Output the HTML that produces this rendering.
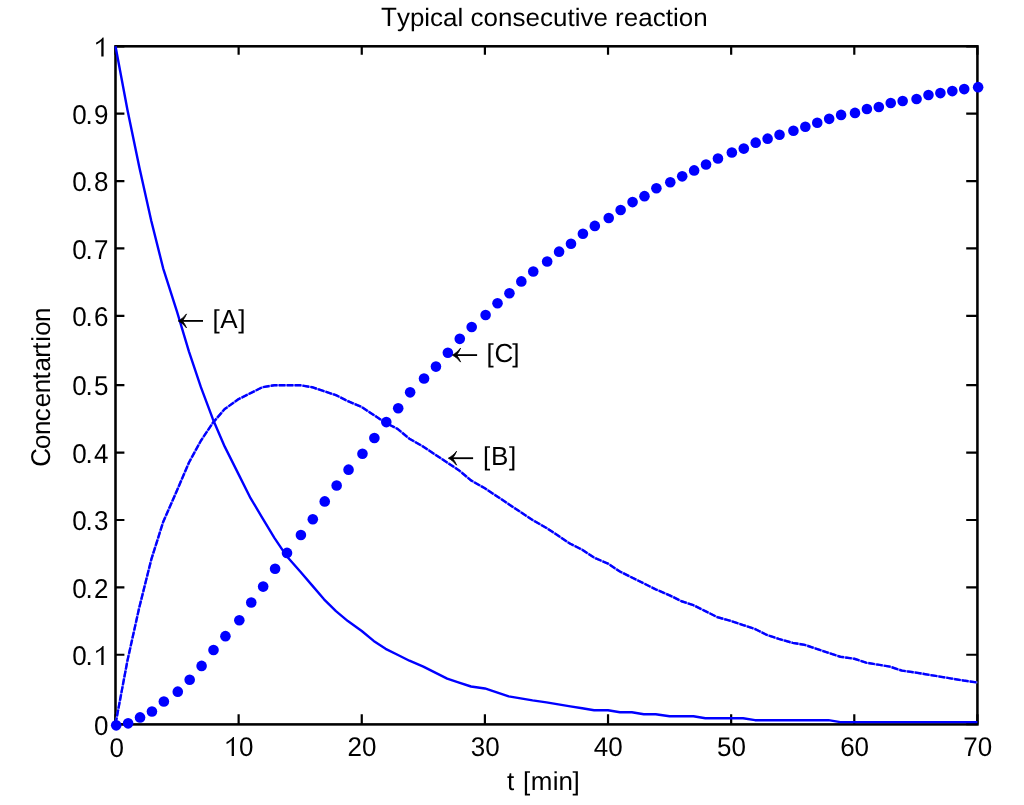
<!DOCTYPE html>
<html><head><meta charset="utf-8"><style>
html,body{margin:0;padding:0;background:#fff;width:1024px;height:805px;overflow:hidden}
svg{display:block;will-change:transform}
text{font-family:"Liberation Sans",sans-serif;font-size:26px;fill:#000;text-rendering:geometricPrecision}
</style></head><body>
<svg width="1024" height="805" viewBox="0 0 1024 805">
<rect width="1024" height="805" fill="#fff"/>
<g stroke="#000" fill="none">
<path d="M115.50,724.14h8.9M977.42,724.14h-11.2M115.50,654.77h8.9M977.42,654.77h-11.2M115.50,587.39h8.9M977.42,587.39h-11.2M115.50,520.00h8.9M977.42,520.00h-11.2M115.50,452.61h8.9M977.42,452.61h-11.2M115.50,385.22h8.9M977.42,385.22h-11.2M115.50,315.85h8.9M977.42,315.85h-11.2M115.50,248.46h8.9M977.42,248.46h-11.2M115.50,181.08h8.9M977.42,181.08h-11.2M115.50,113.69h8.9M977.42,113.69h-11.2M115.50,46.30h8.9M977.42,46.30h-11.2M115.50,724.40v-10.2M115.50,46.30v8.5M238.63,724.40v-10.2M238.63,46.30v8.5M361.76,724.40v-10.2M361.76,46.30v8.5M484.90,724.40v-10.2M484.90,46.30v8.5M608.03,724.40v-10.2M608.03,46.30v8.5M731.16,724.40v-10.2M731.16,46.30v8.5M854.29,724.40v-10.2M854.29,46.30v8.5M977.42,724.40v-10.2M977.42,46.30v8.5" stroke-width="2.2"/>
<rect x="115.50" y="46.30" width="861.92" height="678.10" stroke-width="2.55"/>
</g>
<g fill="none" stroke="#0000ff" stroke-width="2.4" stroke-linejoin="round">
<polyline points="115.50,46.30 127.42,109.72 139.33,167.20 151.25,220.72 163.16,268.28 177.07,311.89 188.98,351.53 200.90,387.20 212.81,418.92 224.73,446.66 238.63,474.41 250.55,498.20 262.46,518.02 274.38,537.84 286.30,555.67 300.20,571.53 312.11,585.40 324.03,599.28 335.95,611.17 347.86,621.08 361.76,630.99 373.68,640.90 385.60,648.83 397.51,654.77 409.43,660.72 423.33,666.67 435.25,672.61 447.16,678.56 459.08,682.52 470.99,686.49 484.90,688.47 496.81,692.43 508.73,696.40 520.64,698.38 532.56,700.36 546.46,702.34 558.38,704.32 570.29,706.31 582.21,708.29 594.13,710.27 608.03,710.27 619.94,712.25 631.86,712.25 643.78,714.23 655.69,714.23 669.59,716.22 681.51,716.22 693.43,716.22 705.34,718.20 717.26,718.20 731.16,718.20 743.08,718.20 754.99,720.18 766.91,720.18 778.82,720.18 792.73,720.18 804.64,720.18 816.56,720.18 828.47,720.18 840.39,722.16 854.29,722.16 866.21,722.16 878.12,722.16 890.04,722.16 901.96,722.16 915.86,722.16 927.77,722.16 939.69,722.16 951.61,722.16 963.52,722.16 977.42,722.16"/>
<polyline points="115.50,724.14 127.42,660.72 139.33,607.21 151.25,559.64 163.16,521.98 177.07,490.27 188.98,462.52 200.90,440.72 212.81,422.88 224.73,409.01 238.63,399.10 250.55,393.15 262.46,387.20 274.38,385.22 286.30,385.22 300.20,385.22 312.11,387.20 324.03,391.17 335.95,395.13 347.86,401.08 361.76,407.02 373.68,414.95 385.60,422.88 397.51,428.83 409.43,438.74 423.33,446.66 435.25,454.59 447.16,462.52 459.08,470.45 470.99,480.36 484.90,488.29 496.81,496.21 508.73,504.14 520.64,512.07 532.56,520.00 546.46,527.93 558.38,535.85 570.29,543.78 582.21,549.73 594.13,557.66 608.03,563.60 619.94,571.53 631.86,577.48 643.78,583.42 655.69,589.37 669.59,595.31 681.51,601.26 693.43,605.22 705.34,611.17 717.26,617.12 731.16,621.08 743.08,625.04 754.99,629.01 766.91,634.95 778.82,638.92 792.73,642.88 804.64,644.86 816.56,648.83 828.47,652.79 840.39,656.76 854.29,658.74 866.21,662.70 878.12,664.68 890.04,666.67 901.96,670.63 915.86,672.61 927.77,674.59 939.69,676.58 951.61,678.56 963.52,680.54 977.42,682.52" stroke="#7878ff" stroke-width="2.1"/>
<polyline points="115.50,724.14 127.42,660.72 139.33,607.21 151.25,559.64 163.16,521.98 177.07,490.27 188.98,462.52 200.90,440.72 212.81,422.88 224.73,409.01 238.63,399.10 250.55,393.15 262.46,387.20 274.38,385.22 286.30,385.22 300.20,385.22 312.11,387.20 324.03,391.17 335.95,395.13 347.86,401.08 361.76,407.02 373.68,414.95 385.60,422.88 397.51,428.83 409.43,438.74 423.33,446.66 435.25,454.59 447.16,462.52 459.08,470.45 470.99,480.36 484.90,488.29 496.81,496.21 508.73,504.14 520.64,512.07 532.56,520.00 546.46,527.93 558.38,535.85 570.29,543.78 582.21,549.73 594.13,557.66 608.03,563.60 619.94,571.53 631.86,577.48 643.78,583.42 655.69,589.37 669.59,595.31 681.51,601.26 693.43,605.22 705.34,611.17 717.26,617.12 731.16,621.08 743.08,625.04 754.99,629.01 766.91,634.95 778.82,638.92 792.73,642.88 804.64,644.86 816.56,648.83 828.47,652.79 840.39,656.76 854.29,658.74 866.21,662.70 878.12,664.68 890.04,666.67 901.96,670.63 915.86,672.61 927.77,674.59 939.69,676.58 951.61,678.56 963.52,680.54 977.42,682.52" stroke-dasharray="6.6 1.35"/>
</g>
<g fill="#0000ff"><circle cx="116.20" cy="725.34" r="5.3"/><circle cx="128.12" cy="723.36" r="5.3"/><circle cx="140.03" cy="717.42" r="5.3"/><circle cx="151.95" cy="711.47" r="5.3"/><circle cx="163.86" cy="701.56" r="5.3"/><circle cx="177.77" cy="691.65" r="5.3"/><circle cx="189.68" cy="679.76" r="5.3"/><circle cx="201.60" cy="665.88" r="5.3"/><circle cx="213.51" cy="650.03" r="5.3"/><circle cx="225.43" cy="636.15" r="5.3"/><circle cx="239.33" cy="620.30" r="5.3"/><circle cx="251.25" cy="602.46" r="5.3"/><circle cx="263.16" cy="586.60" r="5.3"/><circle cx="275.08" cy="568.77" r="5.3"/><circle cx="287.00" cy="552.91" r="5.3"/><circle cx="300.90" cy="535.07" r="5.3"/><circle cx="312.81" cy="519.22" r="5.3"/><circle cx="324.73" cy="501.38" r="5.3"/><circle cx="336.65" cy="485.52" r="5.3"/><circle cx="348.56" cy="469.67" r="5.3"/><circle cx="362.46" cy="453.81" r="5.3"/><circle cx="374.38" cy="437.95" r="5.3"/><circle cx="386.30" cy="422.10" r="5.3"/><circle cx="398.21" cy="408.22" r="5.3"/><circle cx="410.13" cy="392.37" r="5.3"/><circle cx="424.03" cy="378.49" r="5.3"/><circle cx="435.95" cy="366.60" r="5.3"/><circle cx="447.86" cy="352.73" r="5.3"/><circle cx="459.78" cy="338.85" r="5.3"/><circle cx="471.69" cy="326.96" r="5.3"/><circle cx="485.60" cy="315.07" r="5.3"/><circle cx="497.51" cy="303.18" r="5.3"/><circle cx="509.43" cy="293.27" r="5.3"/><circle cx="521.34" cy="281.38" r="5.3"/><circle cx="533.26" cy="271.47" r="5.3"/><circle cx="547.16" cy="261.56" r="5.3"/><circle cx="559.08" cy="251.65" r="5.3"/><circle cx="570.99" cy="243.72" r="5.3"/><circle cx="582.91" cy="233.81" r="5.3"/><circle cx="594.83" cy="225.88" r="5.3"/><circle cx="608.73" cy="217.95" r="5.3"/><circle cx="620.64" cy="210.02" r="5.3"/><circle cx="632.56" cy="202.10" r="5.3"/><circle cx="644.48" cy="196.15" r="5.3"/><circle cx="656.39" cy="188.22" r="5.3"/><circle cx="670.29" cy="182.28" r="5.3"/><circle cx="682.21" cy="176.33" r="5.3"/><circle cx="694.13" cy="170.38" r="5.3"/><circle cx="706.04" cy="164.44" r="5.3"/><circle cx="717.96" cy="158.49" r="5.3"/><circle cx="731.86" cy="152.55" r="5.3"/><circle cx="743.78" cy="148.58" r="5.3"/><circle cx="755.69" cy="142.64" r="5.3"/><circle cx="767.61" cy="138.67" r="5.3"/><circle cx="779.52" cy="134.71" r="5.3"/><circle cx="793.43" cy="130.74" r="5.3"/><circle cx="805.34" cy="126.78" r="5.3"/><circle cx="817.26" cy="122.82" r="5.3"/><circle cx="829.17" cy="118.85" r="5.3"/><circle cx="841.09" cy="114.89" r="5.3"/><circle cx="854.99" cy="112.91" r="5.3"/><circle cx="866.91" cy="108.94" r="5.3"/><circle cx="878.82" cy="106.96" r="5.3"/><circle cx="890.74" cy="103.00" r="5.3"/><circle cx="902.66" cy="101.01" r="5.3"/><circle cx="916.56" cy="99.03" r="5.3"/><circle cx="928.47" cy="95.07" r="5.3"/><circle cx="940.39" cy="93.09" r="5.3"/><circle cx="952.31" cy="91.10" r="5.3"/><circle cx="964.22" cy="89.12" r="5.3"/><circle cx="978.12" cy="87.14" r="5.3"/></g>
<g>
<text x="94.11" y="0" transform="translate(0,735.14) scale(1,1.05)">0</text><path d="M101.30,664.97V649.37C99.85,650.97 97.85,652.17 96.15,652.97L96.15,650.87C98.85,649.87 101.25,647.77 102.65,645.97H103.60V664.97Z" fill="#000"/><text x="72.27 85.61" y="0" transform="translate(0,664.97) scale(1,1.05)">0.</text><text x="72.27 85.61 94.10" y="0" transform="translate(0,597.59) scale(1,1.05)">0.2</text><text x="72.27 85.61 94.10" y="0" transform="translate(0,530.20) scale(1,1.05)">0.3</text><text x="72.27 85.61 94.10" y="0" transform="translate(0,462.81) scale(1,1.05)">0.4</text><text x="72.27 85.61 94.10" y="0" transform="translate(0,395.42) scale(1,1.05)">0.5</text><text x="72.27 85.61 94.10" y="0" transform="translate(0,326.05) scale(1,1.05)">0.6</text><text x="72.27 85.61 94.10" y="0" transform="translate(0,258.66) scale(1,1.05)">0.7</text><text x="72.27 85.61 94.10" y="0" transform="translate(0,191.28) scale(1,1.05)">0.8</text><text x="72.27 85.61 94.10" y="0" transform="translate(0,123.89) scale(1,1.05)">0.9</text><path d="M101.30,56.50V40.90C99.86,42.50 97.86,43.70 96.16,44.50L96.16,42.40C98.86,41.40 101.25,39.30 102.66,37.50H103.61V56.50Z" fill="#000"/><text x="109.47" y="0" transform="translate(0,757.00) scale(1,1.04)">0</text><path d="M231.67,756.10V740.50C230.22,742.10 228.22,743.30 226.52,744.10L226.52,742.00C229.22,741.00 231.62,738.90 233.02,737.10H233.97V756.10Z" fill="#000"/><text x="238.93" y="0" transform="translate(0,756.10) scale(1,1.04)">0</text><text x="347.60 362.06" y="0" transform="translate(0,756.10) scale(1,1.04)">20</text><text x="470.74 485.20" y="0" transform="translate(0,756.10) scale(1,1.04)">30</text><text x="593.87 608.33" y="0" transform="translate(0,756.10) scale(1,1.04)">40</text><text x="717.00 731.46" y="0" transform="translate(0,756.10) scale(1,1.04)">50</text><text x="840.13 854.59" y="0" transform="translate(0,756.10) scale(1,1.04)">60</text><text x="963.26 977.72" y="0" transform="translate(0,756.10) scale(1,1.04)">70</text>
<text x="381.00" y="0" transform="translate(0,26.00) scale(1,1.02)">T</text><text x="396.88 409.88 424.34 430.12 443.12 457.58 470.58 483.58 498.04 512.50 525.50 539.96 552.96 567.42 574.64 580.42 593.42 615.10 623.76 638.22 652.68 665.68 672.90 678.68 693.14" y="0" transform="translate(0,26.00) scale(1,0.965)">ypicalconsecutivereaction</text>
<text x="507.00 522.88 530.82 552.66 558.61 572.51" y="789.80">t[min]</text>
<g transform="translate(50.3,466.8) rotate(-90)"><text x="0.00" y="0" transform="translate(0,0.00) scale(1,1.045)">C</text><text x="17.87 31.76 45.66 59.55 73.45 87.34 95.28 109.17 117.11 125.05 131.01 144.91" y="0.00">oncentartion</text></g>
<path d="M180.20,320.90H203.00" stroke="#000" stroke-width="1.85" fill="none"/><path d="M178.20,320.90C181.40,319.30 184.20,316.70 186.50,313.90C185.50,316.50 184.00,319.00 182.40,320.90C184.00,322.80 185.50,325.30 186.50,327.90C184.20,325.10 181.40,322.50 178.20,320.90Z" fill="#000" stroke="#000" stroke-width="0.8" stroke-linejoin="round"/><text x="212.40 220.34 238.21" y="327.60">[A]</text>
<path d="M454.30,355.10H477.10" stroke="#000" stroke-width="1.85" fill="none"/><path d="M452.30,355.10C455.50,353.50 458.30,350.90 460.60,348.10C459.60,350.70 458.10,353.20 456.50,355.10C458.10,357.00 459.60,359.50 460.60,362.10C458.30,359.30 455.50,356.70 452.30,355.10Z" fill="#000" stroke="#000" stroke-width="0.8" stroke-linejoin="round"/><text x="486.50 494.44 512.30" y="362.20">[C]</text>
<path d="M450.30,458.20H473.10" stroke="#000" stroke-width="1.85" fill="none"/><path d="M448.30,458.20C451.50,456.60 454.30,454.00 456.60,451.20C455.60,453.80 454.10,456.30 452.50,458.20C454.10,460.10 455.60,462.60 456.60,465.20C454.30,462.40 451.50,459.80 448.30,458.20Z" fill="#000" stroke="#000" stroke-width="0.8" stroke-linejoin="round"/><text x="483.10 491.04 508.91" y="465.20">[B]</text>
</g>
</svg>
</body></html>
